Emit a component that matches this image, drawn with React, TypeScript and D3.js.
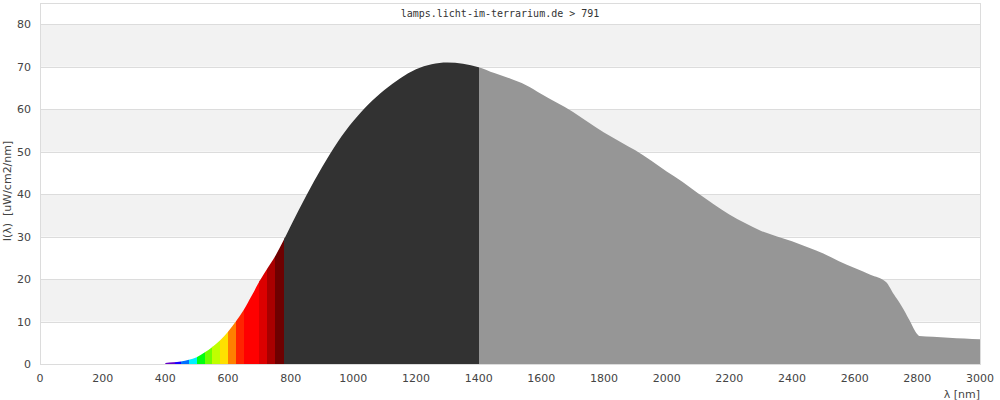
import React from "react";
import * as d3 from "d3";

const W = 1000;
const H = 400;

const title = "lamps.licht-im-terrarium.de > 791";
const yLabel = "I(λ)  [uW/cm2/nm]";
const xLabel = "λ [nm]";

const xTicks = [0, 200, 400, 600, 800, 1000, 1200, 1400, 1600, 1800, 2000, 2200, 2400, 2600, 2800, 3000];
const yTicks = [0, 10, 20, 30, 40, 50, 60, 70, 80];
const bandStarts = [10, 30, 50, 70];

const wavelengths = [
  400, 425, 450, 475, 500, 525, 550, 575, 600, 625, 650, 675, 700, 725, 750, 775,
  800, 850, 900, 950, 1000, 1050, 1100, 1150, 1200, 1250, 1300, 1350, 1400,
  1450, 1500, 1550, 1600, 1650, 1700, 1750, 1800, 1850, 1900, 1950, 2000,
  2050, 2100, 2150, 2200, 2250, 2300, 2350, 2400, 2450, 2500, 2550, 2600,
  2650, 2700, 2725, 2750, 2775, 2800, 2806, 2850, 2900, 2950, 3000,
];
const intensity = [
  0.25, 0.4, 0.6, 1.0, 1.6, 2.7, 4.0, 5.6, 7.6, 10.0, 12.7, 16.0, 19.4, 22.4, 25.3, 28.8,
  32.5, 39.7, 46.3, 52.3, 57.2, 61.3, 64.6, 67.3, 69.4, 70.6, 71.0, 70.7, 69.9,
  68.5, 67.2, 65.7, 63.6, 61.5, 59.4, 56.9, 54.5, 52.4, 50.3, 47.9, 45.3,
  42.9, 40.2, 37.6, 35.2, 33.2, 31.4, 30.1, 28.9, 27.5, 26.0, 24.2, 22.6,
  21.0, 19.3, 16.4, 13.6, 10.3, 7.0, 6.6, 6.4, 6.2, 6.0, 5.8,
];

const colorEdges = [400, 430, 450, 475, 500, 525, 550, 575, 600, 625, 650, 700, 725, 750, 780, 1400, 3000];
const colorFills = [
  "#6400c8", "#1a00ff", "#0070ff", "#00f0ff", "#00ff10", "#70ff00", "#c0ff00",
  "#ffe000", "#ff8000", "#ff2400", "#ff0000", "#dc0000", "#a80000", "#6e0000",
  "#323232", "#969696",
];

export default function App() {
  const left = 40;
  const right = 980;
  const top = 3;
  const bottom = 364;

  const x = d3.scaleLinear().domain([0, 3000]).range([left, right]);
  const y = d3.scaleLinear().domain([0, 85]).range([bottom, top]);

  const data = wavelengths.map((w, i) => ({ w, v: intensity[i] }));
  const areaGen = d3
    .area<{ w: number; v: number }>()
    .x((d) => x(d.w))
    .y0(y(0))
    .y1((d) => y(d.v))
    .curve(d3.curveMonotoneX);
  const areaPath = areaGen(data) || "";

  const font = "'DejaVu Sans', sans-serif";
  const textColor = "#444";

  return (
    <div style={{ position: "fixed", left: 0, top: 0 }}>
      <svg width={W} height={H} style={{ display: "block", background: "#fff" }}>
        <defs>
          <clipPath id="areaClip">
            <path d={areaPath} />
          </clipPath>
        </defs>
        {bandStarts.map((b) => (
          <rect
            key={"band" + b}
            x={left}
            y={y(b + 10)}
            width={right - left}
            height={y(b) - y(b + 10)}
            fill="#f2f2f2"
          />
        ))}
        {yTicks.map((t) => (
          <line
            key={"g" + t}
            x1={left}
            x2={right}
            y1={Math.round(y(t)) + 0.5}
            y2={Math.round(y(t)) + 0.5}
            stroke="#dcdcdc"
            strokeWidth={1}
          />
        ))}
        <g clipPath="url(#areaClip)">
          {colorFills.map((c, i) => (
            <rect
              key={"c" + i}
              x={x(colorEdges[i])}
              y={top}
              width={x(colorEdges[i + 1]) - x(colorEdges[i]) + 0.3}
              height={bottom - top}
              fill={c}
              shapeRendering="crispEdges"
            />
          ))}
        </g>
        <rect
          x={left + 0.5}
          y={top + 0.5}
          width={right - left}
          height={bottom - top}
          fill="none"
          stroke="#dcdcdc"
          strokeWidth={1}
        />
        {yTicks.map((t) => (
          <text
            key={"yl" + t}
            x={31}
            y={y(t) + 4}
            textAnchor="end"
            fontFamily={font}
            fontSize={11}
            fill={textColor}
          >
            {t}
          </text>
        ))}
        {xTicks.map((t) => (
          <text
            key={"xl" + t}
            x={x(t)}
            y={382}
            textAnchor="middle"
            fontFamily={font}
            fontSize={11}
            fill={textColor}
          >
            {t}
          </text>
        ))}
        <text
          x={980}
          y={398}
          textAnchor="end"
          fontFamily={font}
          fontSize={11}
          fill={textColor}
        >
          {xLabel}
        </text>
        <text
          transform="translate(11,191) rotate(-90)"
          textAnchor="middle"
          fontFamily={font}
          fontSize={11}
          fill={textColor}
          style={{ whiteSpace: "pre" }}
        >
          {yLabel}
        </text>
        <text
          x={500}
          y={17}
          textAnchor="middle"
          fontFamily="'DejaVu Sans Mono', monospace"
          fontSize={10}
          fill="#333"
        >
          {title}
        </text>
      </svg>
    </div>
  );
}
